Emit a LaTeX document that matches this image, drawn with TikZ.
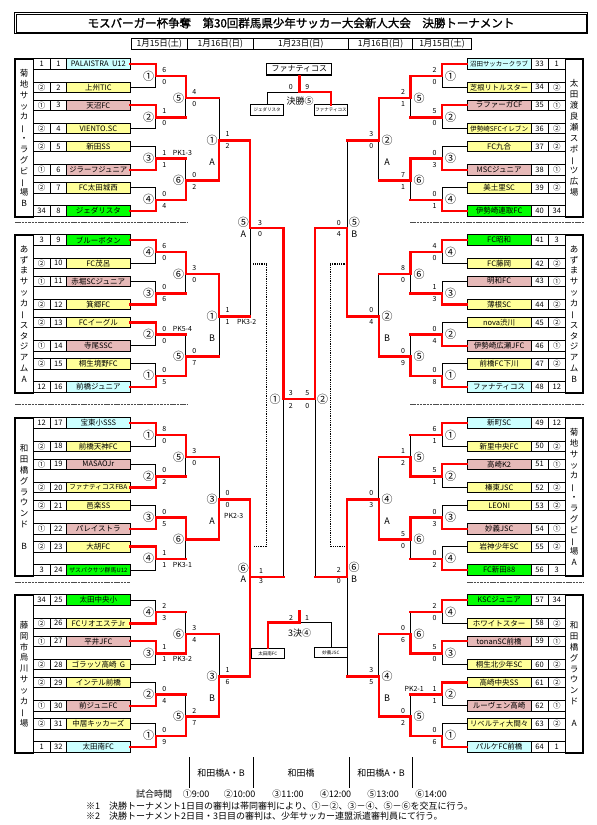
\documentclass[tikz,border=0pt]{standalone}
\usepackage{fontspec}
\usepackage{graphicx}
\setmainfont{Noto Sans CJK JP}
\newfontfamily\titlefont[FakeBold=1.5]{Noto Sans CJK JP}
\usetikzlibrary{calc}
\definecolor{tblue}{HTML}{CCFFFF}
\definecolor{tyellow}{HTML}{FFFF99}
\definecolor{tpink}{HTML}{E6B9B8}
\definecolor{tgreen}{HTML}{00FF00}
\newcommand\fitname[1]{\sbox0{#1}\ifdim\wd0>58pt\resizebox{58pt}{!}{\usebox0}\else\usebox0\fi}
\newcommand\vbar{\rotatebox[origin=c]{90}{ー}}
\tikzset{
  win/.style={red,line width=2.4pt,line cap=rect},
  lose/.style={black,line width=0.6pt},
  cellbox/.style={draw,line width=0.6pt,inner sep=0pt,minimum height=10.5pt,font=\fontsize{7.5}{8}\selectfont},
  namebox/.style={cellbox,minimum width=63.3pt},
  numbox/.style={cellbox,minimum width=16.7pt},
  venue/.style={draw,line width=1.6pt,inner sep=0pt,minimum width=18pt,minimum height=158pt,align=center,font=\fontsize{8.5}{10.85}\selectfont},
  score/.style={inner sep=0pt,font=\fontsize{7}{8}\selectfont},
  gameno/.style={inner sep=0pt,font=\fontsize{11}{11}\selectfont},
  halfno/.style={inner sep=0pt,font=\fontsize{9}{10}\selectfont},
  datebox/.style={draw,line width=0.8pt,inner sep=0pt,minimum height=11pt,font=\fontsize{8.5}{9}\selectfont},
  smallbox/.style={draw,line width=0.6pt,inner sep=0pt,minimum width=32.5pt,minimum height=10.5pt,font=\fontsize{4.5}{5}\selectfont},
  sepline/.style={line width=1pt,dash pattern=on 2.5pt off 0.8pt,black!70},
  dotline/.style={line width=1.2pt,dash pattern=on 0.9pt off 0.9pt},
  foot/.style={inner sep=0pt,font=\fontsize{9}{10}\selectfont},
}
\begin{document}
\begin{tikzpicture}[x=1pt,y=-1pt,font=\fontsize{7.5}{9}\selectfont]
\useasboundingbox (0,0) rectangle (597,825);
% title and days
\node[draw,line width=1.3pt,minimum width=572.8pt,minimum height=21pt,inner sep=0pt,font=\titlefont\fontsize{11.5}{12}\selectfont] (title) at (301,23) {モスバーガー杯争奪　第30回群馬県少年サッカー大会新人大会　決勝トーナメント};
\draw[line width=0.5pt] ($(title.north west)+(2,2)$) rectangle ($(title.south east)+(-2,-2)$);
\foreach \x/\w/\d [count=\i] in {159.35/56.7/1月15日(土),220.3/65.2/1月16日(日),300.8/95.8/1月23日(日),380.65/63.9/1月16日(日),441.95/58.7/1月15日(土)}
  \node[datebox,minimum width=\w pt] (date\i) at (\x,43.5) {\d};
% venues
\node[venue,minimum width=18.3pt] (v1) at (24.15,138) {菊\\地\\サ\\ッ\\カ\\\vbar\\・\\ラ\\グ\\ビ\\\vbar\\場\\B};
\node[venue,minimum width=18.3pt] (v2) at (24.15,314) {あ\\ず\\ま\\サ\\ッ\\カ\\\vbar\\ス\\タ\\ジ\\ア\\ム\\A};
\node[venue,minimum width=18.3pt] (v3) at (24.15,497) {和\\田\\橋\\グ\\ラ\\ウ\\ン\\ド\\\mbox{}\\B};
\node[venue,minimum width=18.3pt] (v4) at (24.15,674) {藤\\岡\\市\\烏\\川\\サ\\ッ\\カ\\\vbar\\場};
\node[venue,minimum width=17.7pt] (v5) at (574.15,138) {太\\田\\渡\\良\\瀬\\ス\\ポ\\\vbar\\ツ\\広\\場};
\node[venue,minimum width=17.7pt] (v6) at (574.15,314) {あ\\ず\\ま\\サ\\ッ\\カ\\\vbar\\ス\\タ\\ジ\\ア\\ム\\B};
\node[venue,minimum width=17.7pt] (v7) at (574.15,497) {菊\\地\\サ\\ッ\\カ\\\vbar\\・\\ラ\\グ\\ビ\\\vbar\\場\\A};
\node[venue,minimum width=17.7pt] (v8) at (574.15,674) {和\\田\\橋\\グ\\ラ\\ウ\\ン\\ド\\\mbox{}\\A};
% teams, left half
\foreach \i/\s/\n/\col in {1/1/PALAISTRA~~U12/tblue,2/②/上州TIC/tyellow,3/①/天沼FC/tpink,4/②/VIENTO.SC/tyellow,
  5/②/新田SS/tyellow,6/①/ジラーフジュニア/tpink,7/②/FC太田城西/tyellow,8/34/ジェダリスタ/tgreen,
  9/3/ブルーボタン/tgreen,10/②/FC茂呂/tyellow,11/①/赤堀SCジュニア/tpink,12/②/箕郷FC/tyellow,
  13/②/FCイーグル/tyellow,14/①/寺尾SSC/tpink,15/②/桐生境野FC/tyellow,16/12/前橋ジュニア/tblue,
  17/12/宝東小SSS/tblue,18/②/前橋天神FC/tyellow,19/①/MASAOJr/tpink,20/②/ファナティコスFBA/tyellow,
  21/②/邑楽SS/tyellow,22/①/パレイストラ/tpink,23/②/大胡FC/tyellow,24/3/ザスパクサツ群馬U12/tgreen,
  25/34/太田中央小/tgreen,26/②/FCリオエステJr/tyellow,27/①/平井JFC/tpink,28/②/ゴラッソ高崎~~G/tyellow,
  29/②/インテル前橋/tyellow,30/①/前ジュニFC/tpink,31/②/中居キッカーズ/tyellow,32/1/太田南FC/tblue}{
  \pgfmathtruncatemacro\k{int((\i-1)/8)}
  \pgfmathtruncatemacro\r{mod(\i-1,8)}
  \pgfmathsetmacro\T{{59,235,418,595}[\k]}
  \pgfmathsetmacro\y{\T+5+41.2*int(\r/2)+23.3*mod(\r,2)}
  \node[numbox] (s\i) at (41.65,\y) {\s};
  \node[numbox] (c\i) at (58.35,\y) {\i};
  \node[namebox,fill=\col] (n\i) at (98.35,\y) {\fitname{\n}};
  \coordinate (T\i) at (n\i.east);
}
% teams, right half
\foreach \i/\s/\n/\col in {33/1/沼田サッカークラブ/tblue,34/②/芝根リトルスター/tyellow,35/①/ラファーガCF/tpink,36/②/伊勢崎SFCイレブン/tyellow,
  37/②/FC九合/tyellow,38/①/MSCジュニア/tpink,39/②/美土里SC/tyellow,40/34/伊勢崎連取FC/tgreen,
  41/3/FC昭和/tgreen,42/②/FC藤岡/tyellow,43/①/明和FC/tpink,44/②/薄根SC/tyellow,
  45/②/nova渋川/tyellow,46/①/伊勢崎広瀬JFC/tpink,47/②/前橋FC下川/tyellow,48/12/ファナティコス/tblue,
  49/12/新町SC/tblue,50/②/新里中央FC/tyellow,51/①/高崎K2/tpink,52/②/榛東JSC/tyellow,
  53/②/LEONI/tyellow,54/①/妙義JSC/tpink,55/②/岩神少年SC/tyellow,56/3/FC新田88/tgreen,
  57/34/KSCジュニア/tgreen,58/②/ホワイトスター/tyellow,59/①/tonanSC前橋/tpink,60/②/桐生北少年SC/tyellow,
  61/②/高崎中央SS/tyellow,62/①/ルーヴェン高崎/tpink,63/②/リベルティ大間々/tyellow,64/1/パルケFC前橋/tblue}{
  \pgfmathtruncatemacro\k{int((\i-33)/8)}
  \pgfmathtruncatemacro\r{mod(\i-33,8)}
  \pgfmathsetmacro\T{{59,235,418,595}[\k]}
  \pgfmathsetmacro\y{\T+5+41.2*int(\r/2)+23.3*mod(\r,2)}
  \node[numbox,minimum width=17.1pt] (s\i) at (556.75,\y) {\s};
  \node[numbox,minimum width=17.4pt] (c\i) at (539.5,\y) {\i};
  \node[namebox,fill=\col] (n\i) at (499.15,\y) {\fitname{\n}};
  \coordinate (T\i) at (n\i.west);
}
% match points
\foreach \k in {1,...,8}{
  \pgfmathsetmacro\T{{59,235,418,595,59,235,418,595}[\k-1]}
  \pgfmathsetmacro\xa{\k<5 ? 155.7 : 442}
  \pgfmathsetmacro\xb{\k<5 ? 185.7 : 410.5}
  \pgfmathsetmacro\xc{\k<5 ? 219 : 378.7}
  \coordinate (B\k a) at (\xa,\T+17.15);
  \coordinate (B\k b) at (\xa,\T+58.35);
  \coordinate (B\k c) at (\xa,\T+99.55);
  \coordinate (B\k d) at (\xa,\T+140.75);
  \coordinate (B\k e) at (\xb,\T+39.25);
  \coordinate (B\k f) at (\xb,\T+121.65);
  \coordinate (B\k g) at (\xc,\T+81.45);
}
\coordinate (L5) at (250,228);
\coordinate (L6) at (250,577);
\coordinate (R5) at (347,228);
\coordinate (R6) at (347,577);
\coordinate (S1) at (283.3,399);
\coordinate (S2) at (315,399);
% game/winner/loser/loser line/loser rise
\foreach \m/\w/\l/\lh/\lv in {
  B1a/T1/T2/lose/lose,B1b/T3/T4/lose/lose,B1c/T6/T5/lose/lose,B1d/T8/T7/lose/lose,B1e/B1a/B1b/win/lose,B1f/B1d/B1c/win/lose,B1g/B1f/B1e/win/lose,
  B2a/T9/T10/lose/lose,B2b/T12/T11/lose/lose,B2c/T13/T14/lose/lose,B2d/T16/T15/lose/lose,B2e/B2a/B2b/win/lose,B2f/B2d/B2c/win/lose,B2g/B2e/B2f/win/lose,
  B3a/T17/T18/lose/lose,B3b/T20/T19/lose/lose,B3c/T22/T21/lose/lose,B3d/T23/T24/lose/lose,B3e/B3a/B3b/win/lose,B3f/B3c/B3d/win/lose,B3g/B3f/B3e/win/lose,
  B4a/T26/T25/lose/lose,B4b/T27/T28/lose/lose,B4c/T30/T29/lose/lose,B4d/T32/T31/lose/lose,B4e/B4b/B4a/win/lose,B4f/B4d/B4c/win/lose,B4g/B4f/B4e/win/lose,
  B5a/T33/T34/lose/lose,B5b/T35/T36/lose/lose,B5c/T38/T37/lose/lose,B5d/T40/T39/lose/lose,B5e/B5a/B5b/win/lose,B5f/B5c/B5d/win/lose,B5g/B5e/B5f/win/lose,
  B6a/T41/T42/lose/lose,B6b/T44/T43/lose/lose,B6c/T46/T45/lose/lose,B6d/T48/T47/lose/lose,B6e/B6a/B6b/win/lose,B6f/B6d/B6c/win/lose,B6g/B6f/B6e/win/lose,
  B7a/T49/T50/lose/lose,B7b/T51/T52/lose/lose,B7c/T54/T53/lose/lose,B7d/T56/T55/lose/lose,B7e/B7b/B7a/win/lose,B7f/B7c/B7d/win/lose,B7g/B7f/B7e/win/lose,
  B8a/T57/T58/lose/lose,B8b/T59/T60/lose/lose,B8c/T61/T62/lose/lose,B8d/T64/T63/lose/lose,B8e/B8b/B8a/win/lose,B8f/B8d/B8c/win/lose,B8g/B8f/B8e/win/lose,
  L5/B1g/B2g/win/lose,L6/B4g/B3g/win/win,R5/B6g/B5g/win/lose,R6/B7g/B8g/win/lose,S1/L5/L6/win/lose,S2/R5/R6/win/lose}{
  \draw[\lv] (\l -| \m) -- (\m);
  \draw[\lh] (\l) -- (\l -| \m);
  \draw[win] (\w) -- (\w -| \m) -- (\m);
}
\draw[win] (S1) -- (S2);
% game numbers and scores
\foreach \m/\o/\p/\q in {B1a/①/6/0,B1b/②/1/0,B1c/③/1/1,B1d/④/0/4,B1e/⑤/4/0,B1f/⑥/0/2,B1g/①/1/2,
  B2a/④/6/0,B2b/③/0/6,B2c/②/0/0,B2d/①/0/5,B2e/⑥/3/0,B2f/⑤/0/7,B2g/①/1/1,
  B3a/①/8/0,B3b/②/0/2,B3c/③/0/5,B3d/④/1/1,B3e/⑤/3/0,B3f/⑥/{}/{},B3g/③/0/0,
  B4a/④/2/3,B4b/③/1/1,B4c/②/0/4,B4d/①/0/9,B4e/⑥/3/4,B4f/⑤/2/7,B4g/③/1/6}{
  \node[gameno] (no-\m) at ($(\m)+(-7,0)$) {\o};
  \node[score] (up-\m) at ($(\m)+(8.5,-6)$) {\p};
  \node[score] (dn-\m) at ($(\m)+(8.5,6)$) {\q};
}
\foreach \m/\o/\p/\q in {B5a/①/2/0,B5b/②/5/0,B5c/③/0/3,B5d/④/0/1,B5e/⑤/2/1,B5f/⑥/7/1,B5g/②/3/0,
  B6a/④/4/0,B6b/③/1/3,B6c/②/0/4,B6d/①/0/8,B6e/⑥/8/0,B6f/⑤/0/9,B6g/②/0/4,
  B7a/①/6/1,B7b/②/5/1,B7c/③/0/3,B7d/④/0/2,B7e/⑤/1/2,B7f/⑥/5/0,B7g/④/0/3,
  B8a/④/2/0,B8b/③/5/0,B8c/②/1/1,B8d/①/0/6,B8e/⑥/0/6,B8f/⑤/0/2,B8g/④/3/5}{
  \node[gameno] (no-\m) at ($(\m)+(8.5,0)$) {\o};
  \node[score] (up-\m) at ($(\m)+(-7.5,-6)$) {\p};
  \node[score] (dn-\m) at ($(\m)+(-7.5,6)$) {\q};
}
\foreach \k/\L in {1/A,2/B,3/A,4/B} \node[halfno] (ab-\k) at ($(B\k g)+(-7,22)$) {\L};
\foreach \k/\L in {5/A,6/B,7/A,8/B} \node[halfno] (ab-\k) at ($(B\k g)+(8.5,22)$) {\L};
\node[score,anchor=west] (pk1) at ($(B1c)+(17,-6)$) {PK1-3};
\node[score,anchor=west] (pk2) at ($(B2c)+(17,-6)$) {PK5-4};
\node[score,anchor=west] (pk3) at ($(B2g)+(18,6)$) {PK3-2};
\node[score,anchor=west] (pk4) at ($(B3g)+(5,17)$) {PK2-3};
\node[score,anchor=west] (pk5) at ($(B3d)+(17,6)$) {PK3-1};
\node[score,anchor=west] (pk6) at ($(B4b)+(17,6)$) {PK3-2};
\node[score,anchor=east] (pk7) at ($(B8c)+(-18,-6)$) {PK2-1};
% second and third day
\node[gameno] (no-L5) at (243.3,222.7) {⑤};
\node[halfno] (ab-L5) at (243.3,233.8) {A};
\node[score] (up-L5) at (260,222.7) {3};
\node[score] (dn-L5) at (260,234.3) {0};
\node[gameno] (no-L6) at (243.3,568.3) {⑥};
\node[halfno] (ab-L6) at (243.3,579) {A};
\node[score] (up-L6) at (261,570.7) {1};
\node[score] (dn-L6) at (261,581) {3};
\node[score] (up-R5) at (338.7,222.7) {0};
\node[gameno] (no-R5) at (354.3,222.7) {⑤};
\node[score] (dn-R5) at (338.7,234.3) {4};
\node[halfno] (ab-R5) at (354.3,234.3) {B};
\node[score] (up-R6) at (338.7,570) {2};
\node[gameno] (no-R6) at (354,567) {⑥};
\node[score] (dn-R6) at (338.7,581) {0};
\node[halfno] (ab-R6) at (354,579) {B};
\node[gameno] (no-S1) at (275,399.3) {①};
\node[score] (up-S1) at (290.7,393.3) {3};
\node[score] (dn-S1) at (290.7,406) {2};
\node[score] (up-S2) at (307.3,393.3) {5};
\node[score] (dn-S2) at (307.3,406) {0};
\node[gameno] (no-S2) at (322.7,399.3) {②};
\draw[dotline] (253.3,264) -- (266.7,264) -- (266.7,546.7) -- (253.3,546.7);
\draw[dotline] (345.3,264) -- (330.3,264) -- (330.3,546.7) -- (345.3,546.7);
% final
\node[draw,line width=1.3pt,minimum width=65pt,minimum height=11.7pt,inner sep=0pt,font=\fontsize{8}{9}\selectfont] (champ) at (299.3,69.2) {ファナティコス};
\node[smallbox] (fin1) at (267,110) {ジェダリスタ};
\node[smallbox] (fin2) at (330.9,110) {ファナティコス};
\coordinate (fmid) at (299.3,92);
\draw[lose] (fin1.north) |- (fmid);
\draw[win] (fin2.north) |- (fmid) -- (champ.south);
\node[score] (f1) at (290.7,87.3) {0};
\node[score] (f2) at (307.3,87.3) {9};
\node[halfno] (fno) at (300,101) {決勝⑤};
% third place
\node[smallbox] (th1) at (267.8,653.3) {太田南FC};
\node[smallbox] (th2) at (330.9,652.5) {妙義JSC};
\coordinate (tmid) at (299.3,622.5);
\coordinate (ttop) at (299.3,611.5);
\draw[lose] (th2.north) |- (tmid);
\draw[win] (th1.north) |- (tmid) -- (ttop);
\node[score] (t1) at (291,617.5) {2};
\node[score] (t2) at (307,617.5) {1};
\node[halfno] (tno) at (299.5,632.7) {3決④};
% separators
\draw[sepline] (15,222.5) -- (188,222.5) (410,222.5) -- (583.7,222.5);
\draw[sepline] (15,404.5) -- (188,404.5) (410,404.5) -- (583.7,404.5);
\draw[sepline] (15,582.7) -- (130,582.7) (467,582.7) -- (583.7,582.7);
% footer
\foreach \x in {189,253,349,412.6} \draw[lose,line width=0.8pt] (\x,757) -- (\x,788);
\node[foot] (fv1) at (221,773.5) {和田橋A・B};
\node[foot] (fv2) at (301,773.5) {和田橋};
\node[foot] (fv3) at (381,773.5) {和田橋A・B};
\foreach \x/\t [count=\i] in {154/試合時間,196/①9:00,239.7/②10:00,288/③11:00,335.5/④12:00,383/⑤13:00,431/⑥14:00}
  \node[foot] (time\i) at (\x,794.5) {\t};
\node[foot,anchor=west] (note1) at (86,806) {※1\quad 決勝トーナメント1日目の審判は帯同審判により、①－②、③－④、⑤－⑥を交互に行う。};
\node[foot,anchor=west] (note2) at (86,816.3) {※2\quad 決勝トーナメント2日目・3日目の審判は、少年サッカー連盟派遣審判員にて行う。};
\end{tikzpicture}
\end{document}
